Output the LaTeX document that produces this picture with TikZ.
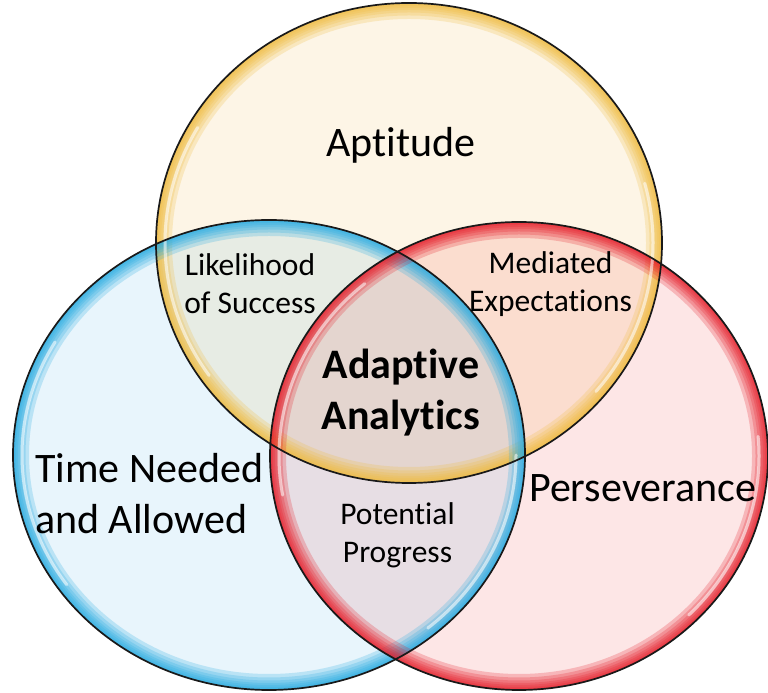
\documentclass[tikz,border=0pt]{standalone}
\usepackage{fontspec}
\setmainfont{Carlito}[Ligatures=NoCommon]
\definecolor{ypale}{HTML}{FDF5E6}
\definecolor{bpale}{HTML}{E8F5FC}
\definecolor{rpale}{HTML}{FDE6E6}
\definecolor{ybpale}{HTML}{E7ECE4}
\definecolor{yrpale}{HTML}{FBDDCF}
\definecolor{brpale}{HTML}{E7DEE4}
\definecolor{ybrpale}{HTML}{E4D5CF}
\definecolor{yglow}{RGB}{240,188,64}
\definecolor{bglow}{RGB}{40,172,226}
\definecolor{rglow}{RGB}{230,30,42}
\begin{document}
\begin{tikzpicture}[x=1pt,y=1pt,
  lbl/.style={inner sep=0pt, align=center, text=black},
  bigtext/.style={font=\fontsize{42}{51}\selectfont},
  boldtext/.style={font=\fontsize{42}{51}\selectfont\bfseries},
  smalltext/.style={font=\fontsize{31.5}{38}\selectfont},
  glowline/.style={opacity=0.24},
  hilite/.style={draw=white, line width=3pt, opacity=0.55, line cap=round},
  rim/.style={draw=black!90, line width=1.7pt}]

\useasboundingbox (0,0) rectangle (768,693);
\fill[white] (0,0) rectangle (768,693);

\coordinate (yc) at (409,450);
\coordinate (bc) at (269,238);
\coordinate (rc) at (519,237);

% base fills
\fill[ypale] (yc) ellipse [x radius=253, y radius=240];
\fill[bpale] (bc) ellipse [x radius=256, y radius=235];
\fill[rpale] (rc) ellipse [x radius=249, y radius=234];

% overlaps
\begin{scope}
  \clip (yc) ellipse [x radius=253, y radius=240];
  \fill[ybpale] (bc) ellipse [x radius=256, y radius=235];
  \fill[yrpale] (rc) ellipse [x radius=249, y radius=234];
\end{scope}
\begin{scope}
  \clip (bc) ellipse [x radius=256, y radius=235];
  \fill[brpale] (rc) ellipse [x radius=249, y radius=234];
\end{scope}
\begin{scope}
  \clip (yc) ellipse [x radius=253, y radius=240];
  \clip (bc) ellipse [x radius=256, y radius=235];
  \fill[ybrpale] (rc) ellipse [x radius=249, y radius=234];
\end{scope}

% rim glows
\begin{scope}
  \clip (yc) ellipse [x radius=253, y radius=240];
  \foreach \w in {32,25,19,14,10,6,3}
    \draw[yglow, glowline, line width=\w pt] (yc) ellipse [x radius=253, y radius=240];
\end{scope}
\begin{scope}
  \clip (bc) ellipse [x radius=256, y radius=235];
  \foreach \w in {32,25,19,14,10,6,3}
    \draw[bglow, glowline, line width=\w pt] (bc) ellipse [x radius=256, y radius=235];
\end{scope}
\begin{scope}
  \clip (rc) ellipse [x radius=249, y radius=234];
  \foreach \w in {32,25,19,14,10,6,3}
    \draw[rglow, glowline, line width=\w pt] (rc) ellipse [x radius=249, y radius=234];
\end{scope}

% glass highlights
\draw[hilite] (yc) ++(150:244 and 231) arc[start angle=150, end angle=215, x radius=244, y radius=231];
\draw[hilite] (yc) ++(-40:244 and 231) arc[start angle=-40, end angle=15, x radius=244, y radius=231];
\draw[hilite] (bc) ++(150:247 and 226) arc[start angle=150, end angle=215, x radius=247, y radius=226];
\draw[hilite] (bc) ++(-50:247 and 226) arc[start angle=-50, end angle=0, x radius=247, y radius=226];
\draw[hilite] (rc) ++(130:240 and 225) arc[start angle=130, end angle=190, x radius=240, y radius=225];
\draw[hilite] (rc) ++(-45:240 and 225) arc[start angle=-45, end angle=5, x radius=240, y radius=225];

% outlines
\draw[rim] (yc) ellipse [x radius=253, y radius=240];
\draw[rim] (bc) ellipse [x radius=256, y radius=235];
\draw[rim] (rc) ellipse [x radius=249, y radius=234];

% labels
\node[lbl, bigtext] (apt) at (401,548) {Aptitude};
\node[lbl, smalltext] (lik) at (250,409.5) {Likelihood\\of Success};
\node[lbl, smalltext] (med) at (550.5,409) {Mediated\\Expectations};
\node[lbl, boldtext] (ada) at (401,300.5) {Adaptive\\Analytics};
\node[lbl, smalltext] (pot) at (397.5,158) {Potential\\Progress};
\node[lbl, bigtext, align=left, anchor=west] (tim) at (35,199) {Time Needed\\and Allowed};
\node[lbl, bigtext, anchor=west] (per) at (529,205) {Perseverance};
\end{tikzpicture}
\end{document}
